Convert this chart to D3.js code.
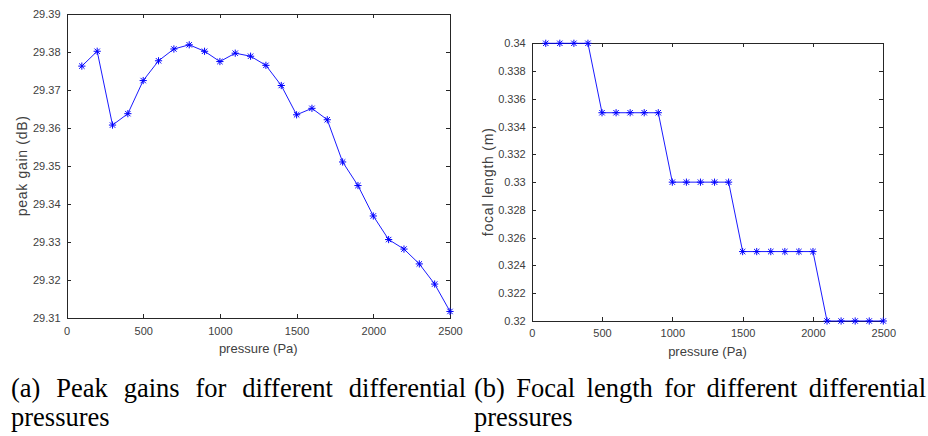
<!DOCTYPE html>
<meta charset="utf-8">
<style>
body { margin: 0; background: #fff; }
.axis text { font-family: "Liberation Sans", Helvetica, Arial, sans-serif; font-size: 11px; fill: #404040; }
.axis path, .axis line { stroke: #262626; stroke-width: 1; shape-rendering: crispEdges; }
.axis-label { font-family: "Liberation Sans", Helvetica, Arial, sans-serif; fill: #404040; text-anchor: middle; }
.caption { font-family: "Liberation Serif", "Times New Roman", serif; font-size: 26.5px; fill: #000; }
.series { fill: none; stroke: #0000ff; stroke-width: 0.9; }
.marker { stroke: #0000ff; stroke-width: 1; }
</style>
<body>
<script src="https://d3js.org/d3.v7.min.js"></script>
<script>
var w = 928, h = 436;

// data
var pressure = [100, 200, 300, 400, 500, 600, 700, 800, 900, 1000, 1100, 1200, 1300,
                1400, 1500, 1600, 1700, 1800, 1900, 2000, 2100, 2200, 2300, 2400, 2500];
var peakGain = [29.3763, 29.3802, 29.3608, 29.3638, 29.3725, 29.3777, 29.3808, 29.3819,
                29.3802, 29.3775, 29.3797, 29.3789, 29.3765, 29.3712, 29.3635, 29.3652,
                29.3622, 29.3511, 29.3449, 29.3369, 29.3307, 29.3282, 29.3243, 29.3190, 29.3118];
var focalLength = [0.34, 0.34, 0.34, 0.34,
                   0.335, 0.335, 0.335, 0.335, 0.335,
                   0.33, 0.33, 0.33, 0.33, 0.33,
                   0.325, 0.325, 0.325, 0.325, 0.325, 0.325,
                   0.32, 0.32, 0.32, 0.32, 0.32];

var xTicks = [0, 500, 1000, 1500, 2000, 2500];
var xTickLabels = ["0", "500", "1000", "1500", "2000", "2500"];
var gainTicks = [29.31, 29.32, 29.33, 29.34, 29.35, 29.36, 29.37, 29.38, 29.39];
var gainTickLabels = ["29.31", "29.32", "29.33", "29.34", "29.35", "29.36", "29.37", "29.38", "29.39"];
var focalTicks = [0.32, 0.322, 0.324, 0.326, 0.328, 0.33, 0.332, 0.334, 0.336, 0.338, 0.34];
var focalTickLabels = ["0.32", "0.322", "0.324", "0.326", "0.328", "0.33", "0.332", "0.334", "0.336", "0.338", "0.34"];

var captionA = ["(a)", "Peak", "gains", "for", "different", "differential"];
var captionB = ["(b)", "Focal", "length", "for", "different", "differential"];

var svg = d3.select("body").append("svg")
            .attr("width", w)
            .attr("height", h);

function drawPanel(p) {
    var x = d3.scaleLinear().domain([0, 2500]).range([p.left, p.right]);
    var y = d3.scaleLinear().domain(p.yDomain).range([p.bottom, p.top]);
    var g = svg.append("g");

    g.append("g").attr("class", "axis")
        .attr("transform", "translate(0," + p.bottom + ")")
        .call(d3.axisBottom(x).tickValues(xTicks).tickSizeInner(-4).tickSizeOuter(0).tickPadding(8.5)
              .tickFormat(function(d, i){ return xTickLabels[i]; }));
    g.append("g").attr("class", "axis")
        .attr("transform", "translate(0," + p.top + ")")
        .call(d3.axisTop(x).tickValues(xTicks).tickSizeInner(-4).tickSizeOuter(0).tickFormat(""));
    g.append("g").attr("class", "axis")
        .attr("transform", "translate(" + p.left + ",0)")
        .call(d3.axisLeft(y).tickValues(p.yTicks).tickSizeInner(-4).tickSizeOuter(0).tickPadding(6)
              .tickFormat(function(d, i){ return p.yTickLabels[i]; }));
    g.append("g").attr("class", "axis")
        .attr("transform", "translate(" + p.right + ",0)")
        .call(d3.axisRight(y).tickValues(p.yTicks).tickSizeInner(-4).tickSizeOuter(0).tickFormat(""));

    g.append("text").attr("class", "axis-label")
        .attr("x", (p.left + p.right) / 2)
        .attr("y", p.bottom + 35)
        .style("font-size", "13px")
        .text("pressure (Pa)");

    g.append("text").attr("class", "axis-label")
        .attr("transform", "translate(" + p.ylabelX + "," + (p.top + p.bottom) / 2 + ") rotate(-90)")
        .attr("dy", "0.35em")
        .style("font-size", "14px")
        .attr("textLength", p.ylabelLen)
        .attr("lengthAdjust", "spacing")
        .text(p.ylabel);

    var line = d3.line()
        .x(function(d, i){ return x(pressure[i]); })
        .y(function(d){ return y(d); });
    g.append("path").attr("class", "series").attr("d", line(p.values));

    var s = 3.6, d45 = 2.7;
    var m = g.selectAll(".mk").data(p.values).enter().append("g")
        .attr("class", "marker")
        .attr("transform", function(d, i){ return "translate(" + x(pressure[i]) + "," + y(d) + ")"; });
    m.append("path").attr("d", "M" + (-s) + ",0H" + s + "M0," + (-s) + "V" + s +
        "M" + (-d45) + "," + (-d45) + "L" + d45 + "," + d45 +
        "M" + (-d45) + "," + d45 + "L" + d45 + "," + (-d45));
}

drawPanel({left: 66.5, right: 450, top: 14, bottom: 318.3,
           yDomain: [29.31, 29.39], yTicks: gainTicks, yTickLabels: gainTickLabels,
           values: peakGain, ylabel: "peak gain (dB)", ylabelX: 22, ylabelLen: 100});
drawPanel({left: 531.7, right: 883.3, top: 43.3, bottom: 321,
           yDomain: [0.32, 0.34], yTicks: focalTicks, yTickLabels: focalTickLabels,
           values: focalLength, ylabel: "focal length (m)", ylabelX: 488, ylabelLen: 108});

// justified two-line captions
function caption(words, x0, x1, y1, y2) {
    var g = svg.append("g");
    var nodes = words.map(function(wd){
        return g.append("text").attr("class", "caption").attr("y", y1).text(wd);
    });
    var widths = nodes.map(function(n){ return n.node().getComputedTextLength(); });
    var gap = (x1 - x0 - d3.sum(widths)) / (words.length - 1);
    var cx = x0;
    nodes.forEach(function(n, i){ n.attr("x", cx); cx += widths[i] + gap; });
    g.append("text").attr("class", "caption").attr("x", x0).attr("y", y2).text("pressures");
}
caption(captionA, 11, 466, 397, 426);
caption(captionB, 474, 926, 397, 426);
</script>
</body>
